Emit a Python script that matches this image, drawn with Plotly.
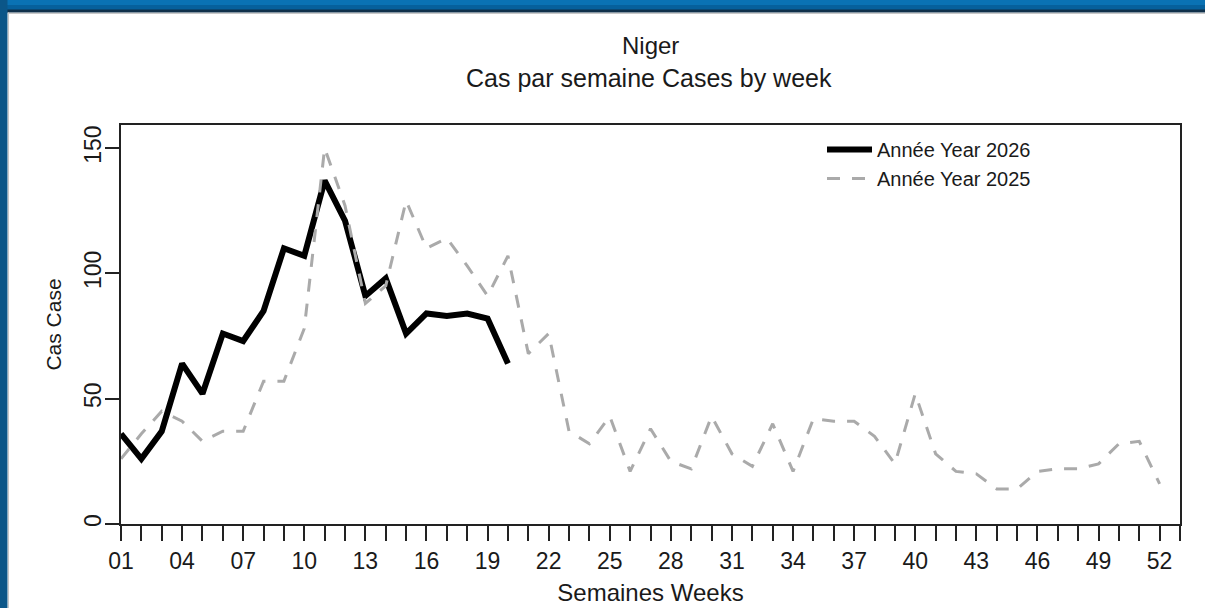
import plotly.graph_objects as go

# ---- data ----
weeks = [1, 2, 3, 4, 5, 6, 7, 8, 9, 10, 11, 12, 13, 14, 15, 16, 17, 18, 19, 20,
         21, 22, 23, 24, 25, 26, 27, 28, 29, 30, 31, 32, 33, 34, 35, 36, 37, 38, 39, 40,
         41, 42, 43, 44, 45, 46, 47, 48, 49, 50, 51, 52]
cases_2026 = [36, 26, 37, 64, 52, 76, 73, 85, 110, 107, 137, 121, 91, 98, 76, 84, 83, 84, 82, 64]
cases_2025 = [26, 36, 45, 41, 33, 37, 37, 57, 57, 78,
              150, 127, 88, 95, 129, 110, 114, 103, 91, 107,
              68, 76, 37, 32, 43, 21, 38, 25, 22, 43,
              28, 23, 40, 21, 42, 41, 41, 35, 24, 52,
              28, 21, 20, 14, 14, 21, 22, 22, 24, 32, 33, 16]
tick_weeks = [1, 4, 7, 10, 13, 16, 19, 22, 25, 28, 31, 34, 37, 40, 43, 46, 49, 52]
tick_labels = ["01", "04", "07", "10", "13", "16", "19", "22", "25", "28", "31",
               "34", "37", "40", "43", "46", "49", "52"]
y_ticks = [0, 50, 100, 150]
name_2026 = "Année Year 2026"
name_2025 = "Année Year 2025"

W, H = 1205, 608
ML, MR, MT, MB = 121, 25, 125, 84
PW, PH = W - ML - MR, H - MT - MB


def px(x):
    return (x - ML) / PW


def py(y):
    return (H - MB - y) / PH


FONT = "Liberation Sans, Arial, sans-serif"
TXT = "#1a1a1a"

fig = go.Figure()
fig.add_trace(go.Scatter(
    x=weeks[:len(cases_2026)], y=cases_2026, mode="lines", name=name_2026,
    line=dict(color="black", width=6),
))
fig.add_trace(go.Scatter(
    x=weeks, y=cases_2025, mode="lines", name=name_2025,
    line=dict(color="#aaaaaa", width=3, dash="13px,12px"),
))

# title lines
fig.add_annotation(text="Niger", xref="paper", yref="paper", x=0.5, y=py(45),
                   showarrow=False, font=dict(family=FONT, size=24, color=TXT),
                   xanchor="center", yanchor="middle")
fig.add_annotation(text="Cas par semaine Cases by week", xref="paper", yref="paper",
                   x=0.4985, y=py(78), showarrow=False,
                   font=dict(family=FONT, size=25, color=TXT),
                   xanchor="center", yanchor="middle")

# window frame (blue border)
shapes = [
    dict(type="rect", xref="paper", yref="paper", x0=px(0), x1=px(W), y0=py(5), y1=py(0),
         fillcolor="#0a72b4", line=dict(width=0), layer="above"),
    dict(type="rect", xref="paper", yref="paper", x0=px(0), x1=px(W), y0=py(10), y1=py(5),
         fillcolor="#06609c", line=dict(width=0), layer="above"),
    dict(type="rect", xref="paper", yref="paper", x0=px(0), x1=px(W), y0=py(12.5), y1=py(9.5),
         fillcolor="#10304a", line=dict(width=0), layer="above"),
    dict(type="rect", xref="paper", yref="paper", x0=px(0), x1=px(7.5), y0=py(H), y1=py(0),
         fillcolor="#0b5688", line=dict(width=0), layer="above"),
    dict(type="line", xref="paper", yref="paper", x0=px(8.5), x1=px(8.5), y0=py(H), y1=py(12.5),
         line=dict(color="#c8c8c8", width=1), layer="above"),
    dict(type="line", xref="paper", yref="paper", x0=px(8), x1=px(W), y0=py(13.5), y1=py(13.5),
         line=dict(color="#c8c8c8", width=1), layer="above"),
]

fig.update_layout(
    template="none",
    width=W, height=H,
    margin=dict(l=ML, r=MR, t=MT, b=MB, pad=0, autoexpand=False),
    paper_bgcolor="white", plot_bgcolor="white",
    font=dict(family=FONT, color=TXT),
    showlegend=True,
    legend=dict(x=px(822), y=py(130), xanchor="left", yanchor="top",
                bgcolor="rgba(0,0,0,0)", borderwidth=0, itemwidth=45,
                font=dict(family=FONT, size=20, color=TXT),
                tracegroupgap=0),
    shapes=shapes,
    xaxis=dict(
        automargin=False,
        range=[1, 53], tickmode="array", tickvals=tick_weeks, ticktext=tick_labels,
        ticks="outside", ticklen=15, tickwidth=2, tickcolor="#222",
        minor=dict(dtick=1, tick0=1, ticks="outside", ticklen=15, tickwidth=2, tickcolor="#222"),
        showline=True, mirror=True, linecolor="#222", linewidth=2,
        showgrid=False, zeroline=False,
        tickfont=dict(family=FONT, size=23, color=TXT), ticklabelstandoff=0,
        title=dict(text="Semaines Weeks", font=dict(family=FONT, size=24, color=TXT), standoff=12),
    ),
    yaxis=dict(
        automargin=False,
        range=[0, 159.2], tickmode="array", tickvals=y_ticks,
        ticktext=[str(v) for v in y_ticks],
        ticks="outside", ticklen=14, tickwidth=2, tickcolor="#222",
        showline=True, mirror=True, linecolor="#222", linewidth=2,
        showgrid=False, zeroline=False, tickangle=-90,
        tickfont=dict(family=FONT, size=23, color=TXT), ticklabelstandoff=-5,
        title=dict(text="Cas Case", font=dict(family=FONT, size=21, color=TXT), standoff=12),
    ),
)

fig.write_html("out.html", config={"displayModeBar": False},
               post_script="document.body.style.margin='0';document.body.style.overflow='hidden';")
